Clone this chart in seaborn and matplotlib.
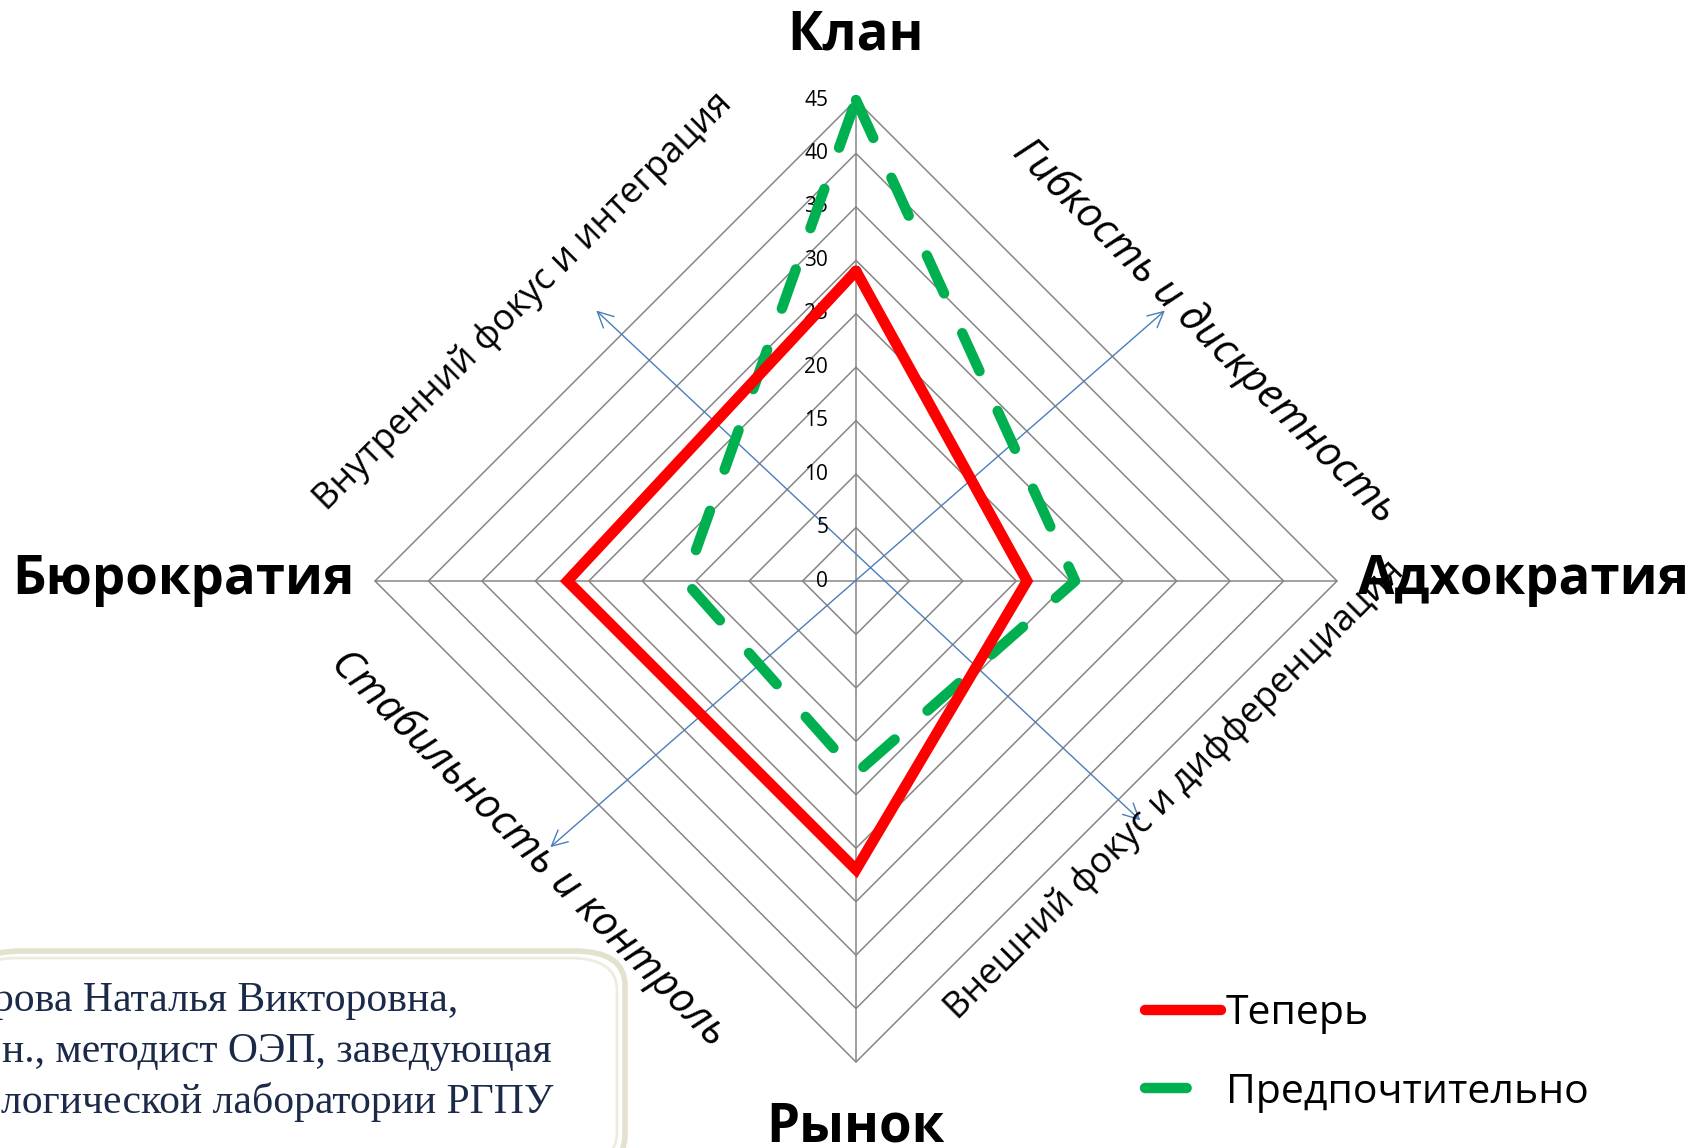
import numpy as np
import pandas as pd
import seaborn as sns
import matplotlib.pyplot as plt
from matplotlib.patches import FancyBboxPatch
from matplotlib.lines import Line2D

# categories (clockwise from top) and the two profiles
categories = ['Клан', 'Адхократия', 'Рынок', 'Бюрократия']
now_vals = [29, 16, 27, 27]
pref_vals = [45, 20.5, 18, 16]
ring_ticks = list(range(0, 50, 5))
series_names = ['Теперь', 'Предпочтительно']

W, H = 1691, 1148
cx, cy = 856, 581          # centre of the chart in pixels
U = 481 / 45               # pixels per unit

sns.set_theme(style='white')
plt.rcParams['font.family'] = ['Open Sans', 'DejaVu Sans']
plt.rcParams['text.color'] = 'black'

fig = plt.figure(figsize=(W / 100, H / 100), dpi=100)
ax = fig.add_axes([0, 0, 1, 1])
ax.set_xlim(-cx / U, (W - cx) / U)
ax.set_ylim(-(H - cy) / U, cy / U)
ax.axis('off')

angles = np.arange(len(categories)) * 2 * np.pi / len(categories)


def to_xy(vals):
    vals = np.asarray(vals, dtype=float)
    x = vals * np.sin(angles)
    y = vals * np.cos(angles)
    return np.append(x, x[0]), np.append(y, y[0])


def fx(px):
    return px / W


def fy(py):
    return 1 - py / H


# polygon grid + spokes
grid_col = '#868686'
for r in ring_ticks[1:]:
    gx, gy = to_xy([r] * 4)
    ax.plot(gx, gy, color=grid_col, lw=1.1, zorder=1)
for a in angles:
    ax.plot([0, 45 * np.sin(a)], [0, 45 * np.cos(a)], color=grid_col, lw=1.1, zorder=1)

for r in ring_ticks:
    ax.text(-2.6, r, str(r), ha='right', va='center', fontsize=15, color='black')

# blue axis arrows
arrow_kw = dict(arrowstyle='<->', color='#4A7EBB', lw=1.0, mutation_scale=28,
                shrinkA=0, shrinkB=0)
ax.annotate('', xy=(-24.3, 25.3), xytext=(26.6, -22.4), arrowprops=arrow_kw, zorder=2)
ax.annotate('', xy=(28.9, 25.3), xytext=(-28.6, -24.9), arrowprops=arrow_kw, zorder=2)

# the two series
nx, ny = to_xy(now_vals)
px_, py_ = to_xy(pref_vals)
df = pd.concat([
    pd.DataFrame({'x': nx, 'y': ny, 'series': series_names[0]}),
    pd.DataFrame({'x': px_, 'y': py_, 'series': series_names[1]}),
])
sns.lineplot(data=df[df.series == series_names[0]], x='x', y='y', sort=False,
             estimator=None, color='#FF0000', lw=7.8, ax=ax, zorder=4,
             solid_joinstyle='miter', legend=False)
sns.lineplot(data=df[df.series == series_names[1]], x='x', y='y', sort=False,
             estimator=None, color='#00B050', lw=7.5, ax=ax, zorder=3,
             dashes=False, legend=False)
dash = (0, (4.0, 4.2))
green = ax.lines[-1]
green.set_linestyle(dash)
green.set_dash_capstyle('round')
ax.set_xlabel('')
ax.set_ylabel('')

# category labels
cat_pos = [(855, 35, 'center', 'center'), (1524, 580, 'center', 'center'),
           (855, 1100, 'center', 'top'), (183, 580, 'center', 'center')]
for name, (x, y, ha, va) in zip(categories, cat_pos):
    fig.text(fx(x), fy(y), name, ha=ha, va=va, fontsize=38, fontweight='bold',
             color='black')

# diagonal axis labels
fig.text(fx(523), fy(302), 'Внутренний фокус и интеграция', rotation=45,
         ha='center', va='center', fontsize=26, rotation_mode='anchor')
fig.text(fx(1205), fy(331), 'Гибкость и дискретность', rotation=-45, style='italic',
         ha='center', va='center', fontsize=30, rotation_mode='anchor')
fig.text(fx(528), fy(849), 'Стабильность и контроль', rotation=-45, style='italic',
         ha='center', va='center', fontsize=30, rotation_mode='anchor')
fig.text(fx(1175), fy(790), 'Внешний фокус и дифференциация', rotation=45,
         ha='center', va='center', fontsize=26, rotation_mode='anchor')

# legend
handles = [Line2D([], [], color='#FF0000', lw=7.5, solid_capstyle='round'),
           Line2D([], [], color='#00B050', lw=7.5, linestyle=dash,
                  dash_capstyle='round')]
fig.legend(handles, series_names, loc='upper left',
           bbox_to_anchor=(fx(1108), fy(957)), frameon=False, fontsize=29.5,
           handlelength=1.85, handletextpad=0.12, labelspacing=0.92)

# author box (partly outside the slide)
box = FancyBboxPatch((fx(-30), fy(1170)), fx(655), fy(951) - fy(1170),
                     boxstyle='round,pad=0,rounding_size=0.03',
                     transform=fig.transFigure, facecolor='white',
                     edgecolor='#E4E1CF', lw=4, zorder=0)
fig.patches.append(box)
box2 = FancyBboxPatch((fx(-30), fy(1165)), fx(647), fy(958) - fy(1165),
                      boxstyle='round,pad=0,rounding_size=0.028',
                      transform=fig.transFigure, facecolor='white',
                      edgecolor='#EEECE0', lw=2, zorder=0)
fig.patches.append(box2)
author_lines = ['рова Наталья Викторовна,', 'н., методист ОЭП, заведующая',
                'логической лаборатории РГПУ']
for i, (t, x0) in enumerate(zip(author_lines, [-7, 2, 1])):
    fig.text(fx(x0), fy(1011 + 51 * i), t, ha='left', va='baseline',
             fontsize=30, family=['Liberation Serif', 'DejaVu Serif'], color='#1B2A48')

fig.savefig('out.png', dpi=100)
